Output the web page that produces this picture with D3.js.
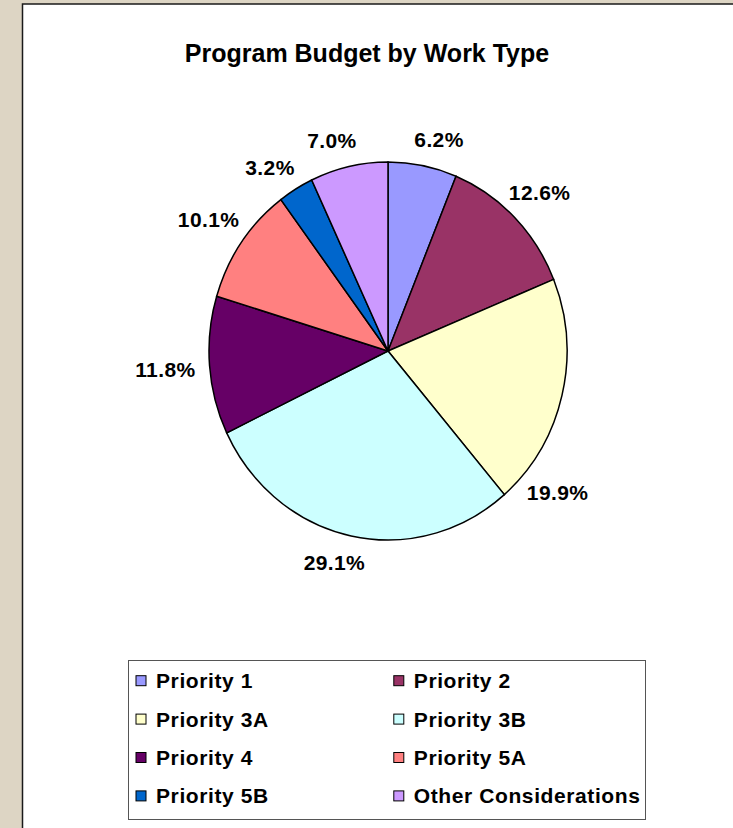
<!DOCTYPE html>
<html>
<head>
<meta charset="utf-8">
<script src="https://cdn.jsdelivr.net/npm/d3@7"></script>
<style>
body { margin: 0; background: #ddd5c4; }
svg { display: block; font-family: Arial, "Liberation Sans", sans-serif; font-weight: bold; }
</style>
</head>
<body>
<svg id="chart" width="733" height="828"></svg>
<script>
var title = "Program Budget by Work Type";
var categories = ["Priority 1", "Priority 2", "Priority 3A", "Priority 3B",
                  "Priority 4", "Priority 5A", "Priority 5B", "Other Considerations"];
var shares = [6.2, 12.6, 19.9, 29.1, 11.8, 10.1, 3.2, 7.0];
var colors = ["#9999ff", "#993366", "#ffffcc", "#ccffff",
              "#660066", "#ff8080", "#0066cc", "#cc99ff"];

// some labels were dragged by hand in the original, nudge them (degrees)
var labelNudge = {"Priority 1": 3, "Priority 3A": 25, "Priority 3B": 3,
                  "Priority 5B": -3, "Other Considerations": -3};

var data = categories.map(function (c, i) {
  return {name: c, value: shares[i], color: colors[i]};
});

var svg = d3.select("#chart"),
  cx = 388, cy = 351,
  rx = 179, ry = 189;

// chart area panel
svg.append("rect")
  .attr("x", 22.5)
  .attr("y", 4)
  .attr("width", 760)
  .attr("height", 860)
  .attr("fill", "#fff")
  .attr("stroke", "#1a1a1a")
  .attr("stroke-width", 1.5);

svg.append("text")
  .attr("x", 367)
  .attr("y", 62)
  .attr("text-anchor", "middle")
  .style("font-size", "25px")
  .text(title);

var pie = d3.pie()
  .sort(null)
  .value(function (d) { return d.value; });

var arc = d3.arc()
  .innerRadius(0)
  .outerRadius(rx);

var arcs = pie(data);

// pie is slightly taller than wide
svg.append("g")
  .attr("transform", "translate(" + cx + "," + cy + ") scale(1," + (ry / rx) + ")")
  .selectAll("path")
  .data(arcs)
  .enter().append("path")
  .attr("d", arc)
  .attr("fill", function (d) { return d.data.color; })
  .attr("stroke", "#000")
  .attr("stroke-width", 1.5)
  .attr("vector-effect", "non-scaling-stroke");

var fmt = d3.format(".1f");
var pad = 14, halfH = 15;

var labels = svg.append("g")
  .attr("transform", "translate(" + cx + "," + cy + ")");

arcs.forEach(function (d) {
  var t = labels.append("text")
    .attr("text-anchor", "middle")
    .attr("dy", "0.36em")
    .style("font-size", "21px")
    .style("letter-spacing", "0.4px")
    .text(fmt(d.data.value) + "%");
  var w = t.node().getComputedTextLength() / 2;
  var a = (d.startAngle + d.endAngle) / 2 + (labelNudge[d.data.name] || 0) * Math.PI / 180;
  var s = Math.sin(a), c = Math.cos(a);
  var dist = pad + Math.min(Math.abs(s) > 1e-6 ? w / Math.abs(s) : 1e9,
                            Math.abs(c) > 1e-6 ? halfH / Math.abs(c) : 1e9);
  t.attr("x", rx * s + dist * s)
   .attr("y", -ry * c - dist * c);
});

// legend
var legend = svg.append("g");

legend.append("rect")
  .attr("x", 128.5)
  .attr("y", 660.5)
  .attr("width", 517)
  .attr("height", 159)
  .attr("fill", "#fff")
  .attr("stroke", "#555")
  .attr("stroke-width", 1);

var item = legend.selectAll(".item")
  .data(data)
  .enter().append("g")
  .attr("class", "item")
  .attr("transform", function (d, i) {
    return "translate(" + (135.5 + (i % 2) * 257.8) + "," + (680.7 + Math.floor(i / 2) * 38.4) + ")";
  });

item.append("rect")
  .attr("x", 0.5)
  .attr("y", -5)
  .attr("width", 10)
  .attr("height", 10)
  .attr("fill", function (d) { return d.color; })
  .attr("stroke", "#000")
  .attr("stroke-width", 1);

item.append("text")
  .attr("x", 20.5)
  .attr("dy", "0.36em")
  .style("font-size", "21px")
  .style("letter-spacing", "0.6px")
  .text(function (d) { return d.name; });
</script>
</body>
</html>
